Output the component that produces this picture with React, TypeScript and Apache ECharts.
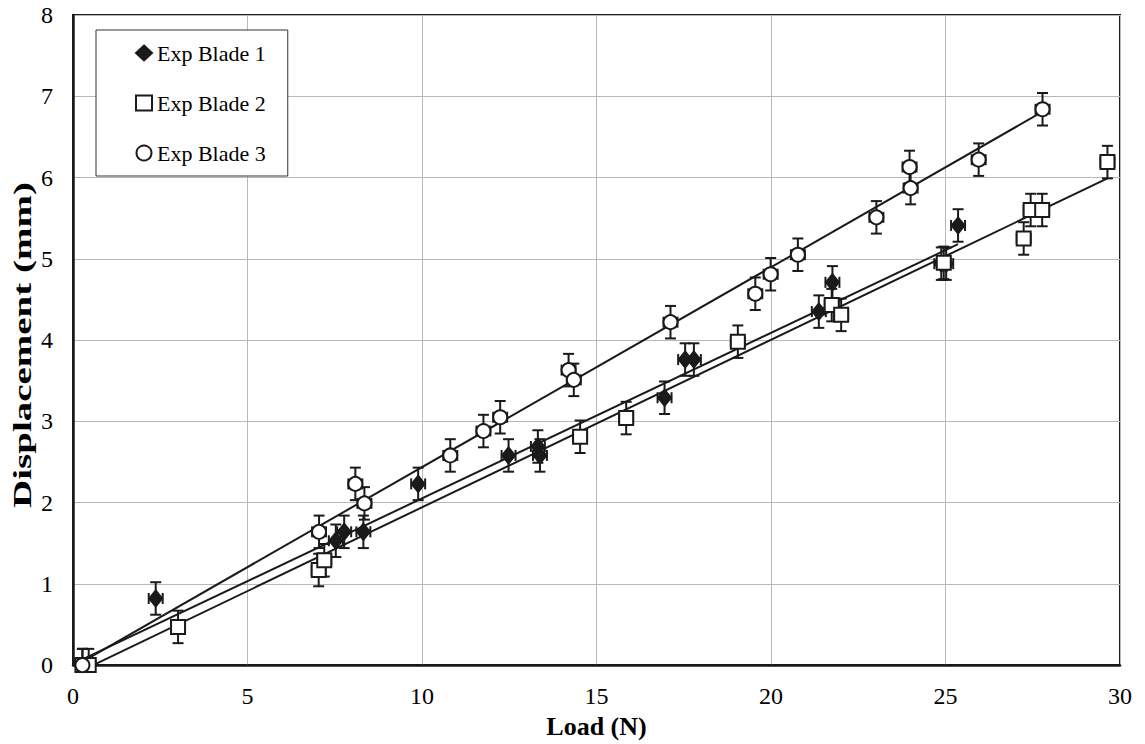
import React, { useEffect, useRef } from "react";
import * as echarts from "echarts";

const blade1X = [2.37, 7.53, 7.77, 8.32, 9.89, 12.48, 13.32, 13.38, 16.95, 17.54, 17.79, 21.37, 21.76, 24.88, 25.02, 25.36];
const blade1Y = [0.82, 1.53, 1.64, 1.64, 2.23, 2.58, 2.69, 2.58, 3.29, 3.76, 3.76, 4.35, 4.71, 4.94, 4.94, 5.41];

const blade2X = [0.27, 0.45, 3.01, 7.04, 7.2, 14.53, 15.85, 19.05, 21.74, 22.01, 24.95, 27.24, 27.44, 27.77, 29.64];
const blade2Y = [0.0, 0.0, 0.47, 1.17, 1.29, 2.81, 3.04, 3.98, 4.43, 4.31, 4.95, 5.25, 5.6, 5.6, 6.19];

const blade3X = [0.27, 7.05, 8.09, 8.35, 10.81, 11.76, 12.24, 14.2, 14.35, 17.12, 19.55, 19.99, 20.77, 23.02, 23.97, 24.0, 25.95, 27.78];
const blade3Y = [0.0, 1.64, 2.23, 1.99, 2.58, 2.88, 3.05, 3.63, 3.51, 4.22, 4.57, 4.81, 5.05, 5.51, 6.13, 5.87, 6.22, 6.84];

const trend1X = [0.27, 25.36];
const trend1Y = [0.07, 5.18];
const trend2X = [0.58, 29.64];
const trend2Y = [0.0, 5.99];
const trend3X = [0.1, 27.78];
const trend3Y = [0.0, 6.81];

const errX = 0.2;
const errY = 0.2;

const seriesNames = ["Exp Blade 1", "Exp Blade 2", "Exp Blade 3"];
const xTicks = [0, 5, 10, 15, 20, 25, 30];
const yTicks = [0, 1, 2, 3, 4, 5, 6, 7, 8];
const xTitle = "Load (N)";
const yTitle = "Displacement (mm)";

const INK = "#1a1a1a";
const FONT = "Liberation Serif";

function zip(xs: number[], ys: number[]) {
  return xs.map((x, i) => [x, ys[i]]);
}

function errData(xs: number[], ys: number[]) {
  return xs.map((x, i) => [x, ys[i], errX, errY]);
}

function renderErr(params: any, api: any) {
  const x = api.value(0);
  const y = api.value(1);
  const ex = api.value(2);
  const ey = api.value(3);
  const top = api.coord([x, y + ey]);
  const bot = api.coord([x, y - ey]);
  const l = api.coord([x - ex, y]);
  const r = api.coord([x + ex, y]);
  const cap = 5.5;
  const style = { stroke: INK, lineWidth: 2 };
  const ln = (x1: number, y1: number, x2: number, y2: number) => ({
    type: "line",
    shape: { x1, y1, x2, y2 },
    style,
  });
  return {
    type: "group",
    children: [
      ln(top[0], top[1], bot[0], bot[1]),
      ln(top[0] - cap, top[1], top[0] + cap, top[1]),
      ln(bot[0] - cap, bot[1], bot[0] + cap, bot[1]),
      ln(l[0], l[1], r[0], r[1]),
      ln(l[0], l[1] - cap, l[0], l[1] + cap),
      ln(r[0], r[1] - cap, r[0], r[1] + cap),
    ],
  };
}

export default function App() {
  const ref = useRef<HTMLDivElement>(null);
  useEffect(() => {
    if (!ref.current) return;
    const chart = echarts.init(ref.current, null, { renderer: "svg" });
    const blades = [
      { name: seriesNames[0], xs: blade1X, ys: blade1Y, symbol: "diamond", size: [13, 16], fill: INK },
      { name: seriesNames[1], xs: blade2X, ys: blade2Y, symbol: "rect", size: 14, fill: "#ffffff" },
      { name: seriesNames[2], xs: blade3X, ys: blade3Y, symbol: "circle", size: 14, fill: "#ffffff" },
    ];
    const trends = [
      zip(trend1X, trend1Y),
      zip(trend2X, trend2Y),
      zip(trend3X, trend3Y),
    ];
    const series: any[] = [];
    trends.forEach((t, i) => {
      series.push({
        type: "line",
        name: "trend" + i,
        data: t,
        symbol: "none",
        lineStyle: { color: INK, width: 2 },
        clip: true,
        z: 2,
        silent: true,
      });
    });
    blades.forEach((b) => {
      series.push({
        type: "custom",
        name: b.name + " err",
        data: errData(b.xs, b.ys),
        renderItem: renderErr,
        clip: true,
        z: 3,
        silent: true,
      });
    });
    blades.forEach((b) => {
      series.push({
        type: "scatter",
        name: b.name,
        data: zip(b.xs, b.ys),
        symbol: b.symbol,
        symbolSize: b.size,
        itemStyle: { color: b.fill, borderColor: INK, borderWidth: 2, opacity: 1 },
        z: 4,
      });
    });

    chart.setOption({
      animation: false,
      backgroundColor: "#ffffff",
      textStyle: { fontFamily: FONT, color: "#000" },
      grid: {
        left: 73,
        right: 25,
        top: 15,
        bottom: 69,
        show: true,
        borderColor: INK,
        borderWidth: 2,
        backgroundColor: "transparent",
      },
      graphic: [
        {
          type: "text",
          x: 22,
          y: 345,
          rotation: Math.PI / 2,
          scaleX: 1.5,
          style: {
            text: yTitle,
            font: 'bold 26px "Liberation Serif"',
            fill: "#000",
            align: "center",
            verticalAlign: "middle",
          },
        },
      ],
      legend: {
        data: seriesNames.map((n, i) => ({
          name: n,
          icon: i === 0 ? "diamond" : i === 1 ? "rect" : "circle",
        })),
        orient: "vertical",
        left: 96,
        top: 30,
        itemWidth: 16,
        itemHeight: 15,
        itemGap: 28,
        padding: [12, 22, 12, 39],
        borderColor: "#333",
        borderWidth: 1,
        backgroundColor: "#ffffff",
        textStyle: { fontFamily: FONT, fontSize: 22, color: "#000" },
        selectedMode: false,
      },
      xAxis: {
        type: "value",
        min: xTicks[0],
        max: xTicks[xTicks.length - 1],
        interval: 5,
        name: xTitle,
        nameLocation: "middle",
        nameGap: 40,
        nameTextStyle: { fontFamily: FONT, fontSize: 26, fontWeight: "bold", color: "#000" },
        axisLine: { show: true, onZero: false, lineStyle: { color: INK, width: 2.5 } },
        axisTick: { show: false },
        axisLabel: { fontFamily: FONT, fontSize: 24, color: "#000", margin: 19 },
        splitLine: { show: true, lineStyle: { color: "#b8b8b8", width: 1 } },
      },
      yAxis: {
        type: "value",
        min: yTicks[0],
        max: yTicks[yTicks.length - 1],
        interval: 1,
        axisLine: { show: true, onZero: false, lineStyle: { color: INK, width: 2.5 } },
        axisTick: { show: false },
        axisLabel: { fontFamily: FONT, fontSize: 24, color: "#000", margin: 20 },
        splitLine: { show: true, lineStyle: { color: "#b8b8b8", width: 1 } },
      },
      series,
    });
    return () => chart.dispose();
  }, []);
  return <div ref={ref} style={{ width: 1145, height: 744, position: "absolute", left: 0, top: 0 }} />;
}
